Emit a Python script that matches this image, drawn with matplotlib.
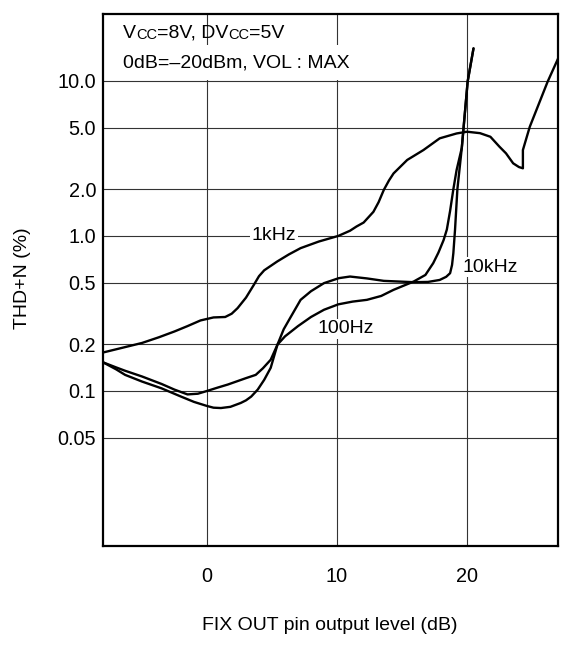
import matplotlib
matplotlib.use("Agg")
import matplotlib.pyplot as plt
from matplotlib.ticker import NullLocator

plt.rcParams['font.family'] = ['Liberation Sans', 'DejaVu Sans']

# ---- data ----
x_1k = [-8, -6.5, -5, -3.7, -2.5, -1.5, -0.5, 0.5, 1.4, 1.9, 2.35, 3.0, 3.6, 4.0,
        4.4, 5.4, 6.3, 7.2, 8.6, 10.1, 11.0, 11.5, 12.05, 12.8, 13.2, 13.6, 14.0,
        14.35, 15.4, 16.65, 17.9, 19.2, 20.0, 21.0, 21.8, 22.5, 23.0, 23.55, 24.0,
        24.3, 24.3, 24.45, 24.83, 26.2, 27.0]
y_1k = [0.177, 0.19, 0.204, 0.222, 0.242, 0.262, 0.285, 0.298, 0.30, 0.315, 0.342,
        0.40, 0.483, 0.55, 0.60, 0.684, 0.76, 0.834, 0.92, 1.0, 1.08, 1.15, 1.22,
        1.43, 1.65, 1.98, 2.28, 2.53, 3.09, 3.58, 4.26, 4.58, 4.7, 4.6, 4.36, 3.76,
        3.41, 2.94, 2.78, 2.73, 3.58, 3.95, 5.06, 9.87, 13.9]

x_100 = [-8, -7, -6.3, -5, -3.5, -2.5, -1.5, -0.7, 0, 0.8, 1.6, 3.0, 3.75, 4.3, 4.9,
         5.42, 6.0, 7.0, 8.0, 9.0, 10.1, 11.2, 12.3, 13.4, 14.35, 15.9, 16.8, 17.4,
         17.8, 18.2, 18.45, 18.7, 18.95, 19.2, 19.6, 20.05, 20.5]
y_100 = [0.153, 0.142, 0.135, 0.124, 0.111, 0.102, 0.095, 0.096, 0.100, 0.105,
         0.110, 0.121, 0.127, 0.140, 0.159, 0.199, 0.225, 0.262, 0.30, 0.334, 0.362,
         0.377, 0.387, 0.41, 0.449, 0.508, 0.56, 0.667, 0.78, 0.94, 1.1, 1.45, 2.0,
         2.66, 3.7, 9.9, 16.2]

x_10k = [-8, -7, -6.3, -5, -3.5, -2, -1, 0, 0.5, 1.07, 1.8, 2.6, 3.0, 3.4, 3.9, 4.4,
         4.9, 5.42, 5.9, 6.44, 7.2, 8.0, 9.0, 10.14, 11.0, 12.3, 13.6, 15.9, 17.0,
         17.9, 18.4, 18.7, 18.85, 18.95, 19.08, 19.26, 19.6, 20.05, 20.5]
y_10k = [0.153, 0.138, 0.127, 0.115, 0.104, 0.092, 0.085, 0.080, 0.078, 0.0776,
         0.079, 0.0837, 0.087, 0.092, 0.102, 0.118, 0.141, 0.199, 0.25, 0.30, 0.387,
         0.44, 0.496, 0.534, 0.547, 0.532, 0.513, 0.503, 0.505, 0.52, 0.545, 0.575,
         0.65, 0.774, 1.1, 2.0, 3.7, 9.9, 16.2]

x_ticks = [0, 10, 20]
y_ticks = [0.05, 0.1, 0.2, 0.5, 1.0, 2.0, 5.0, 10.0]
y_tick_labels = ["0.05", "0.1", "0.2", "0.5", "1.0", "2.0", "5.0", "10.0"]

curve_labels = [("1kHz", 5.13, 1.0), ("10kHz", 21.8, 0.63), ("100Hz", 10.7, 0.252)]

# ---- figure ----
fig = plt.figure(figsize=(5.75, 6.47), dpi=100)
ax = fig.add_axes([103/575, 1 - 546/647, (558-103)/575, (546-14)/647])

ax.set_yscale('log')
ax.set_xlim(-8, 27)
ax.set_ylim(0.01, 27)
ax.set_xticks(x_ticks)
ax.set_yticks(y_ticks)
ax.set_yticklabels(y_tick_labels)
ax.yaxis.set_minor_locator(NullLocator())
ax.xaxis.set_minor_locator(NullLocator())
ax.tick_params(axis='both', length=0, labelsize=14.3)
ax.tick_params(axis='x', pad=15)
ax.tick_params(axis='y', pad=5)

ax.grid(True, color='#333333', linewidth=0.8)
ax.set_axisbelow(True)
for s in ax.spines.values():
    s.set_linewidth(1.6)
    s.set_color('black')

lw = 1.7
for xs, ys in [(x_1k, y_1k), (x_100, y_100), (x_10k, y_10k)]:
    ax.plot(xs, ys, color='black', lw=lw, zorder=3,
            solid_joinstyle='round', solid_capstyle='round')

for txt, xx, yy in curve_labels:
    ax.text(xx, yy, txt, fontsize=14, ha='center', va='center', zorder=4,
            bbox=dict(boxstyle='square,pad=0.08', fc='white', ec='none'))

# condition text with small-caps "CC"
fs_big, fs_small = 14, 10.5
box = dict(boxstyle='square,pad=0.45', fc='white', ec='none')
t = ax.text(0.044, 0.955, "V", transform=ax.transAxes, fontsize=fs_big,
            va='baseline', ha='left', zorder=4, bbox=box)
pieces = [("CC", fs_small), ("=8V, DV", fs_big), ("CC", fs_small), ("=5V", fs_big)]
prev = t
for s, f in pieces:
    prev = ax.annotate(s, xy=(1, 0), xycoords=prev, fontsize=f, va='bottom',
                       ha='left', zorder=4,
                       bbox=dict(boxstyle='square,pad=0.0', fc='none', ec='none'))
ax.text(0.044, 0.900, "0dB=\u201320dBm, VOL : MAX", transform=ax.transAxes,
        fontsize=fs_big, va='baseline', ha='left', zorder=4, bbox=box)

fig.text(330/575, 1 - 626/647, "FIX OUT pin output level (dB)", fontsize=14,
         ha='center', va='center')
fig.text(23/575, 1 - 278/647, "THD+N (%)", fontsize=14, rotation=90,
         ha='center', va='center')

fig.savefig("out.png", dpi=100)
